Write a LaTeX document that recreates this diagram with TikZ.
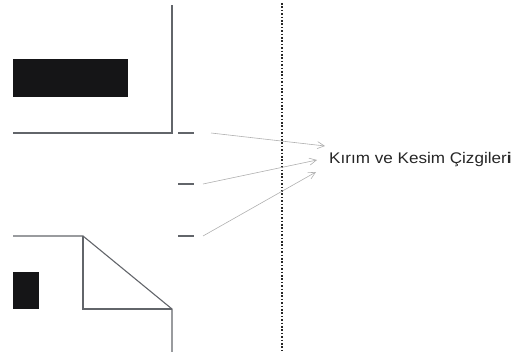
\documentclass[tikz,border=0pt]{standalone}
\usepackage{fontspec}
\setmainfont{Liberation Sans}
\usetikzlibrary{arrows.meta}
\definecolor{inkblack}{HTML}{151517}
\definecolor{cutline}{HTML}{62656A}
\definecolor{pointer}{HTML}{B0B0B0}
\tikzset{
  cut/.style={draw=cutline,line width=1.1pt},
  pointerline/.style={draw=pointer,line width=0.6pt,-{Straight Barb[length=7pt,width=7pt]}},
  block/.style={fill=inkblack,draw=none},
  foldmark/.style={draw=black!85,line width=1.3pt,dash pattern=on 1.6pt off 1.8pt}
}
\begin{document}
\begin{tikzpicture}[x=1pt,y=-1pt]
\useasboundingbox (0,0) rectangle (524,352);
\fill[block] (13,59) rectangle (128,97);
\fill[block] (13,272) rectangle (39,309);
\draw[cut] (13,133) -- (172,133) -- (172,5);
\draw[cut] (13,236) -- (83,236) -- (172,309) -- (172,352);
\draw[cut] (83,236) -- (83,309) -- (172,309);
\draw[cut] (178,133) -- (194,133);
\draw[cut] (178,184) -- (194,184);
\draw[cut] (178,236) -- (194,236);
\draw[foldmark] (282,3) -- (282,352);
\node[anchor=west,inner sep=0pt,font=\fontsize{15.4pt}{18pt}\selectfont,text=black!85,xscale=1.11] (label) at (329,160) {Kırım ve Kesim Çizgiler\textbf{i}};
\coordinate (s1) at (211,133);
\coordinate (s2) at (203,184);
\coordinate (s3) at (203,236);
\coordinate (e1) at (325,146);
\coordinate (e2) at (317,160);
\coordinate (e3) at (316,172);
\draw[pointerline] (s1) -- (e1);
\draw[pointerline] (s2) -- (e2);
\draw[pointerline] (s3) -- (e3);
\end{tikzpicture}
\end{document}
